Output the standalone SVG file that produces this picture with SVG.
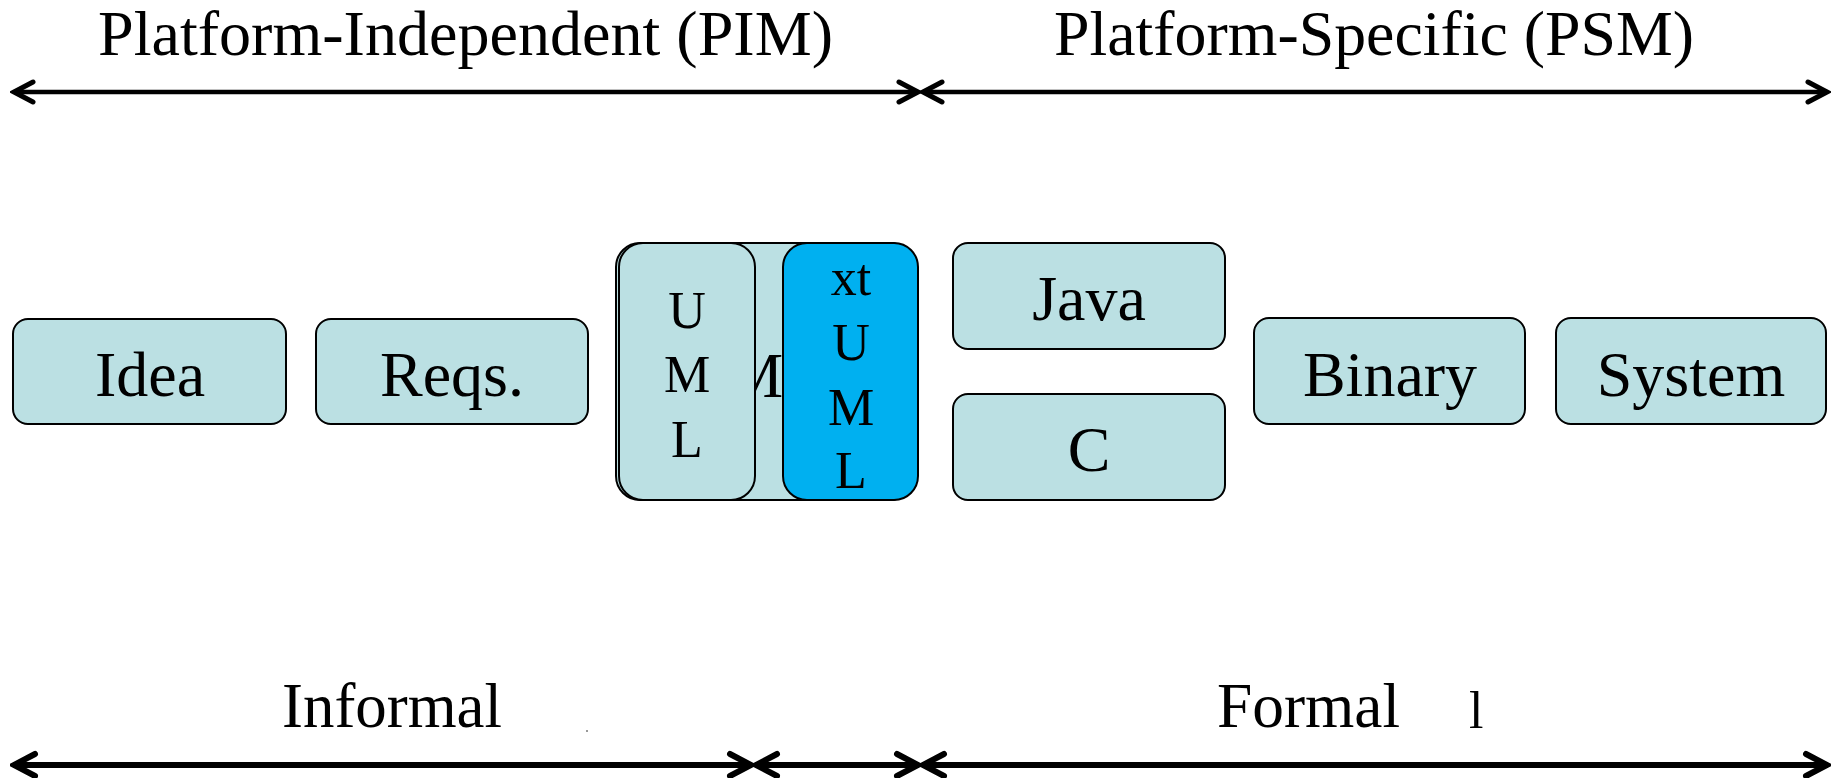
<svg xmlns="http://www.w3.org/2000/svg" width="1839" height="778" viewBox="0 0 1839 778">
  <defs>
    <style>
      .box { fill: #BBE0E3; stroke: #000; stroke-width: 2; }
      .hot { fill: #00B0F0; stroke: #000; stroke-width: 2; }
      .lbl { font-family: "Liberation Serif", "Times New Roman", serif; font-size: 64px; fill: #000; text-anchor: middle; }
      .vl { font-family: "Liberation Serif", "Times New Roman", serif; font-size: 52px; fill: #000; text-anchor: middle; }
      .title { font-family: "Liberation Serif", "Times New Roman", serif; font-size: 64px; fill: #000; }
      .span { fill: none; stroke: #000; stroke-linecap: butt; }
    </style>
    <marker id="chev" viewBox="-24 -14 28 28" refX="0" refY="0" markerWidth="28" markerHeight="28" markerUnits="userSpaceOnUse" orient="auto-start-reverse">
      <path d="M-19,-10 L0,0 L-19,10" fill="none" stroke="#000" stroke-width="5" stroke-linecap="round" stroke-linejoin="miter"/>
    </marker>
    <marker id="chevB" viewBox="-26 -15 30 30" refX="0" refY="0" markerWidth="30" markerHeight="30" markerUnits="userSpaceOnUse" orient="auto-start-reverse">
      <path d="M-21,-11 L0,0 L-21,11" fill="none" stroke="#000" stroke-width="6" stroke-linecap="round" stroke-linejoin="miter"/>
    </marker>
  </defs>

  <rect width="1839" height="778" fill="#fff"/>

  <!-- headings -->
  <text class="title" x="98" y="55" textLength="735" lengthAdjust="spacingAndGlyphs">Platform-Independent (PIM)</text>
  <text class="title" x="1054" y="55" textLength="640" lengthAdjust="spacingAndGlyphs">Platform-Specific (PSM)</text>
  <text class="title" x="282" y="727" textLength="220" lengthAdjust="spacingAndGlyphs">Informal</text>
  <circle cx="587" cy="731" r="1" fill="#777"/>
  <text class="title" x="1217" y="727" textLength="183" lengthAdjust="spacingAndGlyphs">Formal</text>
  <text class="title" x="1469" y="728" style="font-size:52px">l</text>

  <!-- span arrows -->
  <g id="connectors">
    <path class="span" d="M14,92 H918" stroke-width="4.5" marker-start="url(#chev)" marker-end="url(#chev)"/>
    <path class="span" d="M923,92 H1827" stroke-width="4.5" marker-start="url(#chev)" marker-end="url(#chev)"/>
    <path class="span" d="M14,765 H751" stroke-width="6" marker-start="url(#chevB)" marker-end="url(#chevB)"/>
    <path class="span" d="M756,765 H918" stroke-width="6" marker-start="url(#chevB)" marker-end="url(#chevB)"/>
    <path class="span" d="M923,765 H1827" stroke-width="6" marker-start="url(#chevB)" marker-end="url(#chevB)"/>
  </g>

  <g id="idea">
    <rect class="box" x="13" y="319" width="273" height="105" rx="15"/>
    <text class="lbl" x="150" y="396">Idea</text>
  </g>
  <g id="reqs">
    <rect class="box" x="316" y="319" width="272" height="105" rx="15"/>
    <text class="lbl" x="452" y="396">Reqs.</text>
  </g>

  <!-- stacked modelling boxes -->
  <g id="uml-stack">
    <rect class="box" x="616" y="243" width="298" height="257" rx="24" stroke-width="2.5"/>
    <text class="lbl" x="680" y="397" style="text-anchor:start">UML</text>
  </g>
  <g id="uml">
    <rect class="box" x="619" y="243" width="136" height="257" rx="24"/>
    <text class="vl" x="687" y="328">U</text>
    <text class="vl" x="687" y="392">M</text>
    <text class="vl" x="687" y="457">L</text>
  </g>
  <g id="xtuml">
    <rect class="hot" x="783" y="243" width="135" height="257" rx="24"/>
    <text class="vl" x="851" y="295">xt</text>
    <text class="vl" x="851" y="360">U</text>
    <text class="vl" x="851" y="425">M</text>
    <text class="vl" x="851" y="488">L</text>
  </g>

  <g id="java">
    <rect class="box" x="953" y="243" width="272" height="106" rx="15"/>
    <text class="lbl" x="1089" y="320">Java</text>
  </g>
  <g id="c">
    <rect class="box" x="953" y="394" width="272" height="106" rx="15"/>
    <text class="lbl" x="1089" y="471">C</text>
  </g>
  <g id="binary">
    <rect class="box" x="1254" y="318" width="271" height="106" rx="15"/>
    <text class="lbl" x="1390" y="396">Binary</text>
  </g>
  <g id="system">
    <rect class="box" x="1556" y="318" width="270" height="106" rx="15"/>
    <text class="lbl" x="1691" y="396">System</text>
  </g>
</svg>
